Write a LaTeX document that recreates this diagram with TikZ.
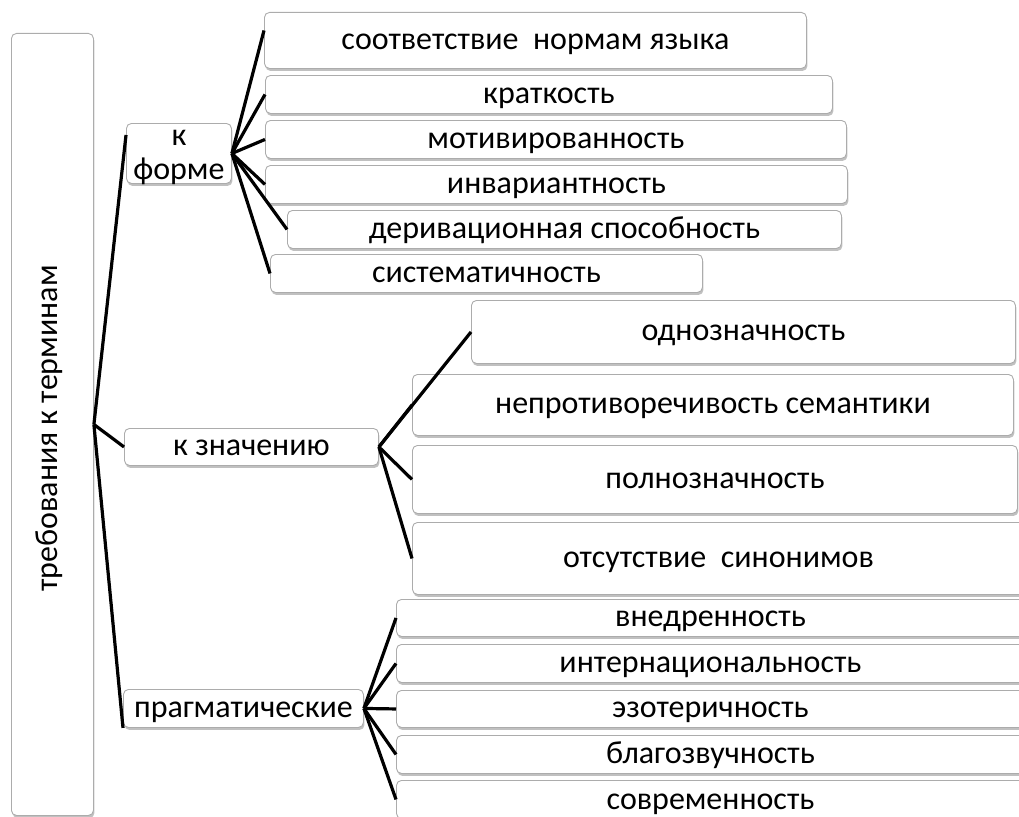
\documentclass[tikz,border=0pt]{standalone}
\usepackage{fontspec}
\setmainfont{Carlito}
\usetikzlibrary{shadows}
\newcommand{\fs}{\fontsize{32}{34}\selectfont}
\tikzset{
  box/.style={draw=gray!65, fill=white, rounded corners=5pt, line width=0.9pt,
    anchor=north west, inner sep=0pt, align=center, font=\fs,
    text height=22pt, text depth=4pt,
    drop shadow={shadow xshift=1pt, shadow yshift=-2.5pt, fill=gray!55, opacity=0.9}},
  link/.style={line width=3.2pt, black},
}
\begin{document}
\begin{tikzpicture}[x=1pt,y=-1pt]
\useasboundingbox (0,0) rectangle (1019,816);
\clip (0,0) rectangle (1019,816);
% root
\node[box, minimum width=82pt, minimum height=782pt] (root) at (11,33) {};
\node[rotate=90, font=\fs, inner sep=0pt] (roottxt) at ([xshift=-3pt,yshift=-4pt]root.center) {требования к терминам};
% level 1
\node[box, minimum width=105pt, minimum height=60pt, text height=56pt, text depth=4pt] (kf) at (126,123) {к\\форме};
\node[box, minimum width=254pt, minimum height=37pt] (kz) at (124,428) {к значению};
\node[box, minimum width=240pt, minimum height=38pt] (pr) at (123,689) {прагматические};
% form
\node[box, minimum width=542pt, minimum height=56pt] (f1) at (264,12) {соответствие\ \ нормам языка};
\node[box, minimum width=567pt, minimum height=38pt] (f2) at (265,75) {краткость};
\node[box, minimum width=581pt, minimum height=38pt] (f3) at (265,120) {мотивированность};
\node[box, minimum width=582pt, minimum height=38pt] (f4) at (265,165) {инвариантность};
\node[box, minimum width=554pt, minimum height=38pt] (f5) at (287,210) {деривационная способность};
\node[box, minimum width=432pt, minimum height=38pt] (f6) at (270,254) {систематичность};
% meaning
\node[box, minimum width=544pt, minimum height=63pt] (z1) at (471,300) {однозначность};
\node[box, minimum width=601pt, minimum height=61pt] (z2) at (412,374) {непротиворечивость семантики};
\node[box, minimum width=605pt, minimum height=68pt] (z3) at (412,445) {полнозначность};
\node[box, minimum width=612pt, minimum height=72pt] (z4) at (412,522) {отсутствие\ \ синонимов};
% pragmatic
\node[box, minimum width=628pt, minimum height=37pt] (p1) at (396,599) {внедренность};
\node[box, minimum width=628pt, minimum height=38pt] (p2) at (396,644) {интернациональность};
\node[box, minimum width=628pt, minimum height=37pt] (p3) at (396,690) {эзотеричность};
\node[box, minimum width=628pt, minimum height=38pt] (p4) at (396,735) {благозвучность};
\node[box, minimum width=628pt, minimum height=38pt, text height=20pt, text depth=0pt] (p5) at (396,780) {современность};
% connectors
\draw[link] (root.east) -- ([yshift=-12pt]kf.north west);
\draw[link] (root.east) -- (kz.west);
\draw[link] (root.east) -- (pr.south west);
\foreach \n in {f2,f3,f4,f5,f6} \draw[link] (kf.east) -- (\n.west);
\draw[link] (kf.east) -- ([yshift=10pt]f1.west);
\foreach \n in {z1,z2,z3,z4} \draw[link] (kz.east) -- (\n.west);
\foreach \n in {p1,p2,p3,p4,p5} \draw[link] (pr.east) -- (\n.west);
\end{tikzpicture}
\end{document}
